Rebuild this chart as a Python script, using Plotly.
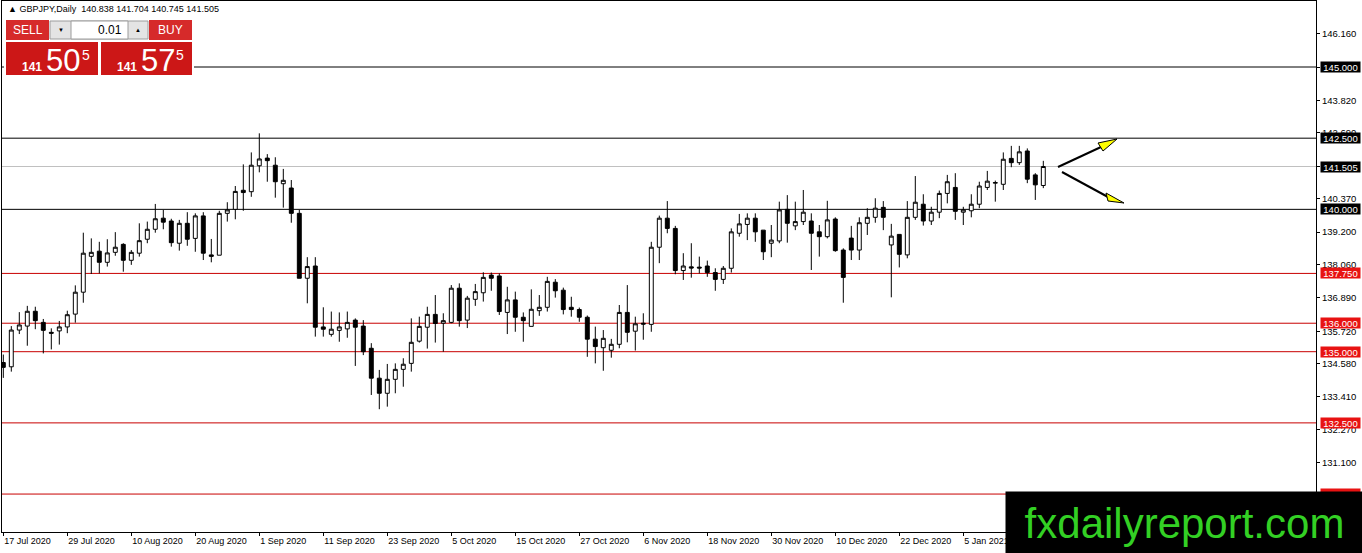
"""GBPJPY daily candles with support/resistance levels, MT4-style."""

import pandas as pd
import plotly.graph_objects as go

# ---- data -----------------------------------------------------------------
START = "2020-07-17"
END = "2021-01-19"
HOLIDAYS = ["2020-12-25", "2021-01-01"]

OPEN = [
    134.62, 134.47, 135.76, 135.90, 136.42, 136.03, 135.68, 135.73, 135.87, 136.32,
    137.09, 138.35, 138.53, 138.14, 138.49, 138.77, 138.21, 138.46, 138.95, 139.30,
    139.69, 139.59, 138.81, 139.51, 138.98, 139.77, 138.40, 138.39, 139.86, 140.00,
    140.67, 140.62, 141.53, 141.80, 141.55, 140.90, 140.75, 139.86, 137.58, 138.01,
    135.87, 135.61, 135.75, 135.80, 136.11, 135.90, 135.12, 134.07, 133.54, 134.03,
    134.38, 134.59, 135.37, 135.86, 136.31, 136.00, 136.03, 137.23, 136.11, 136.84,
    137.07, 137.69, 137.66, 136.38, 136.82, 136.21, 135.89, 136.44, 136.56, 137.44,
    137.16, 136.56, 136.48, 136.21, 135.44, 135.14, 135.05, 135.26, 136.38, 135.72,
    136.00, 135.96, 138.67, 139.69, 139.33, 137.85, 137.98, 137.97, 138.01, 137.78,
    137.54, 137.93, 139.16, 139.47, 139.69, 139.27, 138.81, 138.89, 140.00, 139.42,
    139.57, 139.59, 139.21, 139.04, 139.66, 138.57, 138.99, 138.57, 139.51, 139.72,
    140.07, 138.75, 139.12, 138.40, 139.72, 140.18, 139.59, 139.90, 140.56, 140.77,
    139.90, 139.95, 140.18, 140.77, 140.92, 140.88, 141.79, 141.64, 142.05, 141.21,
    140.838,
]
HIGH = [
    134.90, 135.90, 136.39, 136.61, 136.58, 136.15, 135.82, 136.08, 136.44, 137.33,
    139.18, 138.98, 138.86, 138.95, 139.20, 138.81, 138.57, 139.51, 139.57, 140.19,
    139.98, 139.67, 139.63, 139.90, 139.86, 139.90, 138.96, 139.95, 140.25, 140.82,
    141.58, 142.00, 142.67, 141.94, 141.83, 141.42, 141.03, 139.98, 138.32, 138.32,
    136.56, 136.41, 136.38, 136.41, 136.17, 136.11, 135.30, 134.36, 134.57, 134.59,
    134.77, 136.17, 136.23, 136.58, 136.99, 136.35, 137.34, 137.40, 136.96, 137.38,
    137.79, 137.78, 137.75, 137.28, 137.11, 136.38, 137.19, 136.99, 137.63, 137.55,
    137.25, 136.93, 136.55, 136.27, 135.88, 135.76, 135.45, 136.64, 137.34, 136.23,
    136.35, 138.86, 139.78, 140.29, 139.42, 138.46, 138.81, 138.34, 138.20, 137.93,
    138.01, 139.33, 139.84, 139.86, 139.86, 139.27, 139.45, 140.27, 140.50, 140.27,
    140.68, 139.86, 139.45, 140.30, 139.72, 138.63, 139.42, 139.72, 140.04, 140.39,
    140.29, 139.49, 139.12, 140.29, 141.17, 140.53, 140.09, 140.66, 141.21, 141.27,
    140.09, 140.53, 140.97, 141.35, 141.01, 142.00, 142.23, 142.23, 142.14, 141.27,
    141.704,
]
LOW = [
    134.08, 134.30, 135.62, 135.21, 135.79, 134.94, 135.08, 135.25, 135.65, 136.02,
    136.72, 137.73, 137.75, 137.99, 138.37, 137.81, 138.05, 138.34, 138.81, 139.18,
    139.30, 138.69, 138.55, 138.72, 138.51, 138.22, 138.14, 138.39, 139.57, 139.65,
    139.95, 140.44, 141.30, 140.97, 140.41, 140.06, 139.53, 137.58, 136.70, 135.53,
    135.53, 135.53, 135.35, 135.49, 134.50, 134.88, 133.48, 132.98, 133.07, 133.54,
    133.77, 134.30, 135.32, 135.11, 135.32, 135.00, 136.00, 135.88, 135.83, 136.61,
    136.76, 137.14, 136.29, 135.62, 135.70, 135.35, 135.89, 136.26, 136.41, 136.90,
    136.31, 136.23, 136.05, 134.82, 134.59, 134.33, 134.79, 135.12, 135.33, 135.04,
    135.42, 135.70, 138.11, 139.16, 137.72, 137.52, 137.60, 137.75, 137.63, 137.14,
    137.38, 137.78, 139.04, 138.92, 138.86, 138.22, 138.32, 138.81, 138.83, 139.27,
    139.45, 137.87, 138.34, 138.98, 138.51, 136.72, 138.22, 138.22, 139.10, 139.53,
    139.27, 136.91, 137.96, 138.28, 139.63, 139.43, 139.45, 139.69, 140.21, 139.63,
    139.45, 139.72, 140.04, 140.68, 140.27, 140.68, 141.48, 141.56, 140.92, 140.33,
    140.745,
]
CLOSE = [
    134.45, 135.76, 135.94, 136.42, 136.09, 135.75, 135.65, 135.87, 136.30, 137.09,
    138.46, 138.49, 138.14, 138.47, 138.67, 138.21, 138.49, 138.90, 139.30, 139.67,
    139.55, 138.83, 139.51, 138.95, 139.77, 138.46, 138.35, 139.86, 139.98, 140.63,
    140.59, 141.55, 141.77, 141.71, 140.97, 141.02, 139.86, 137.58, 137.99, 135.86,
    135.79, 135.79, 135.87, 136.03, 135.86, 135.00, 134.07, 133.54, 134.03, 134.38,
    134.56, 135.33, 135.89, 136.31, 135.99, 136.09, 137.23, 136.09, 136.88, 137.11,
    137.61, 137.58, 136.41, 136.82, 136.21, 136.09, 136.49, 136.56, 137.47, 137.14,
    136.48, 136.48, 136.21, 135.44, 135.18, 135.47, 135.26, 136.38, 135.68, 135.98,
    135.97, 138.67, 139.69, 139.33, 137.85, 138.01, 137.94, 137.94, 137.78, 137.54,
    137.93, 139.21, 139.49, 139.69, 139.21, 138.51, 138.92, 139.98, 139.51, 139.57,
    139.90, 139.16, 139.04, 139.63, 138.55, 137.61, 138.57, 139.53, 139.72, 140.04,
    139.72, 139.06, 138.42, 139.72, 140.25, 139.59, 139.90, 140.56, 140.97, 139.93,
    139.98, 140.18, 140.82, 140.99, 140.94, 141.76, 141.64, 142.02, 141.06, 140.86,
    141.505,
]

TICK_LABELS = [
    "17 Jul 2020", "29 Jul 2020", "10 Aug 2020", "20 Aug 2020", "1 Sep 2020",
    "11 Sep 2020", "23 Sep 2020", "5 Oct 2020", "15 Oct 2020", "27 Oct 2020",
    "6 Nov 2020", "18 Nov 2020", "30 Nov 2020", "10 Dec 2020", "22 Dec 2020",
    "5 Jan 2021", "15 Jan 2021",
]
TICK_STEP = 8

PRICE_TICKS = [146.160, 144.990, 143.820, 142.690, 141.520, 140.370, 139.200,
               138.060, 136.890, 135.720, 134.580, 133.410, 132.270, 131.100, 129.960]

BLACK_LEVELS = [145.000, 142.500, 140.000]
RED_LEVELS = [137.750, 136.000, 135.000, 132.500, 130.000]
LAST_PRICE = 141.505

HEADER = "▲ GBPJPY,Daily  140.838 141.704 140.745 141.505"
BID = ("141", "50", "5")
ASK = ("141", "57", "5")
LOT = "0.01"
WATERMARK = "fxdailyreport.com"

# ---- page geometry (pixels) -----------------------------------------------
W, H = 1362, 553
PL, PR, PT, PB = 2, 1316, 1, 532
FONT = "Liberation Sans"
LINE_RED = "#c80000"
BOX_RED = "#e81212"


def px(x):
    return (x - PL) / (PR - PL)


def py(y):
    return (PB - y) / (PB - PT)


dates = [d.strftime("%Y-%m-%d") for d in pd.bdate_range(START, END)
         if d.strftime("%Y-%m-%d") not in HOLIDAYS]

fig = go.Figure(
    go.Candlestick(
        x=dates,
        open=OPEN,
        high=HIGH,
        low=LOW,
        close=CLOSE,
        increasing=dict(line=dict(color="black", width=1), fillcolor="white"),
        decreasing=dict(line=dict(color="black", width=1), fillcolor="black"),
        whiskerwidth=0,
        showlegend=False,
    )
)

shapes = []
annotations = []

# level lines and their price tags on the axis
for lvl in BLACK_LEVELS:
    shapes.append(dict(type="line", xref="paper", yref="y", x0=0, x1=1, y0=lvl, y1=lvl,
                       line=dict(color="black", width=1), layer="below"))
for lvl in RED_LEVELS:
    shapes.append(dict(type="line", xref="paper", yref="y", x0=0, x1=1, y0=lvl, y1=lvl,
                       line=dict(color=LINE_RED, width=1), layer="below"))
shapes.append(dict(type="line", xref="paper", yref="y", x0=0, x1=1, y0=LAST_PRICE, y1=LAST_PRICE,
                   line=dict(color="#c0c0c0", width=1), layer="below"))

tags = [(v, "black") for v in BLACK_LEVELS] + [(LAST_PRICE, "black")] + [(v, BOX_RED) for v in RED_LEVELS]
for val, bg in tags:
    annotations.append(dict(
        xref="paper", yref="y", x=px(1320), y=val, xanchor="left", yanchor="middle",
        text=f"{val:.3f}", showarrow=False, bgcolor=bg, width=39, height=10, borderpad=0,
        font=dict(family=FONT, size=9.5, color="white"),
    ))

# arrows
arrows = [
    ((1058, 167), (1101, 147), [(1098, 143), (1103, 151), (1117, 139)]),
    ((1062, 172), (1108, 197), [(1106, 193), (1108, 201), (1124, 203)]),
]
for start, end, head in arrows:
    shapes.append(dict(type="line", xref="paper", yref="paper",
                       x0=px(start[0]), y0=py(start[1]), x1=px(end[0]), y1=py(end[1]),
                       line=dict(color="black", width=2)))
    path = "M " + " L ".join(f"{px(a)},{py(b)}" for a, b in head) + " Z"
    shapes.append(dict(type="path", xref="paper", yref="paper", path=path,
                       fillcolor="#ffff00", line=dict(color="black", width=1)))

# one-click trading panel


def rect(x0, y0, x1, y1, fill, line=None):
    shapes.append(dict(type="rect", xref="paper", yref="paper",
                       x0=px(x0), y0=py(y0), x1=px(x1), y1=py(y1), fillcolor=fill,
                       line=dict(color=line or fill, width=1 if line else 0)))


def label(x, y, text, size, color="white", anchor="center", bold=False):
    annotations.append(dict(
        xref="paper", yref="paper", x=px(x), y=py(y), xanchor=anchor, yanchor="middle",
        text=f"<b>{text}</b>" if bold else text, showarrow=False,
        font=dict(family=FONT, size=size, color=color),
    ))


rect(4, 18, 194, 77, "white")
rect(6, 20, 49, 40, "#d62a2a")
rect(50, 21, 148, 39, "#e4e4e4", "#9c9c9c")
rect(71, 21, 128, 39, "white", "#9c9c9c")
rect(149, 20, 192, 40, "#d62a2a")
rect(6, 42, 98, 75, "#cc1717")
rect(101, 42, 192, 75, "#cc1717")

label(27.5, 30, "SELL", 12)
label(170.5, 30, "BUY", 12)
label(60.5, 30, "▼", 6, color="black")
label(138, 30, "▲", 6, color="black")
label(124, 30, LOT, 12, color="black", anchor="right")
label(32, 67, BID[0], 12, bold=True)
label(62.5, 60, BID[1], 31)
label(86, 55, BID[2], 14)
label(126.5, 67, ASK[0], 12, bold=True)
label(158, 60, ASK[1], 31)
label(180, 55, ASK[2], 14)

label(6, 9, HEADER, 9, color="black", anchor="left")

# watermark on top of everything
annotations.append(dict(
    xref="paper", yref="paper", x=px(1005), y=py(491), xanchor="left", yanchor="top",
    text=WATERMARK, showarrow=False, bgcolor="black", width=357, height=62, borderpad=0,
    font=dict(family=FONT, size=42, color="#33d024"),
))

tick_vals = [dates[i * TICK_STEP] for i in range(len(TICK_LABELS))]

fig.update_layout(
    width=W,
    height=H,
    margin=dict(l=PL, r=W - PR, t=PT, b=H - PB),
    paper_bgcolor="white",
    plot_bgcolor="white",
    font=dict(family=FONT, size=9, color="black"),
    shapes=shapes,
    annotations=annotations,
    xaxis=dict(
        type="category",
        range=[(PL - 3.3) / 8, (PR - 3.3) / 8],
        rangeslider=dict(visible=False),
        tickvals=tick_vals,
        ticktext=TICK_LABELS,
        ticks="outside",
        ticklen=3,
        tickcolor="black",
        ticklabelposition="outside right",
        tickfont=dict(family=FONT, size=9),
        showline=True,
        linecolor="black",
        linewidth=1,
        mirror=True,
        showgrid=False,
        zeroline=False,
    ),
    yaxis=dict(
        side="right",
        range=[145 - (PB - 67) / 28.47, 145 + (67 - PT) / 28.47],
        tickvals=PRICE_TICKS,
        ticktext=[f"{v:.3f}" for v in PRICE_TICKS],
        ticks="outside",
        ticklen=3,
        tickcolor="black",
        tickfont=dict(family=FONT, size=9.5),
        showline=True,
        linecolor="black",
        linewidth=1,
        mirror=True,
        showgrid=False,
        zeroline=False,
    ),
)

# the page gets the browser's default 8px body margin; drop it so the chart sits at 0,0
fig.write_html(
    "out.html",
    config={"displayModeBar": False},
    post_script="document.body.style.margin = '0';",
)
